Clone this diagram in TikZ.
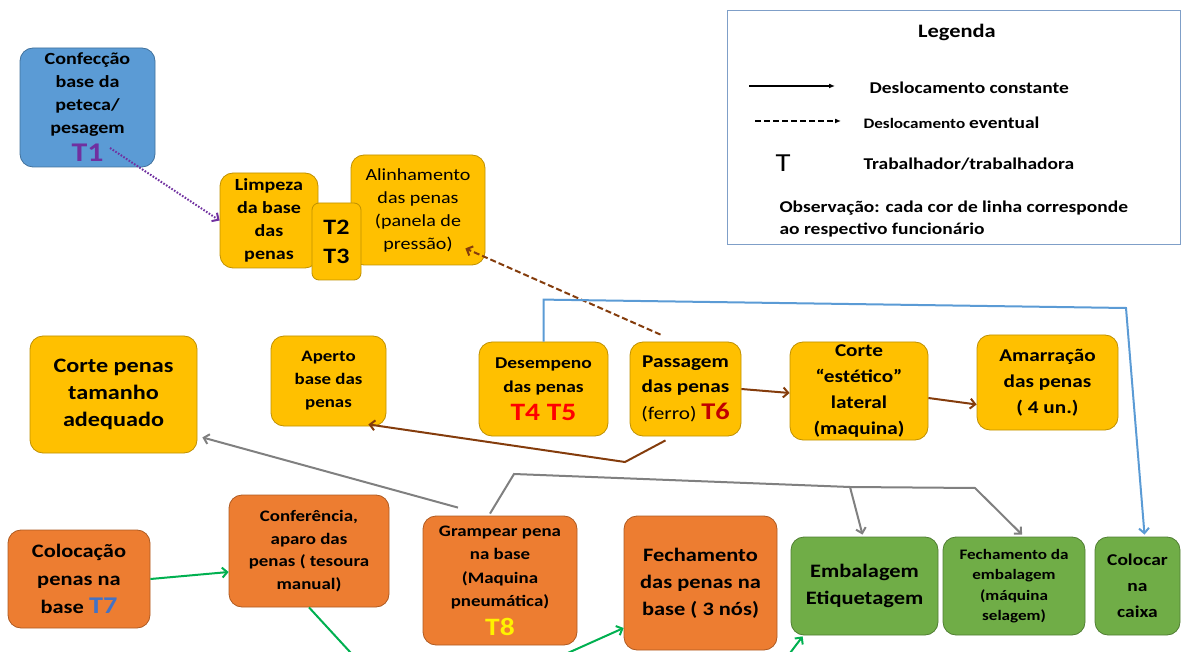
\documentclass[tikz,border=0pt]{standalone}
\usepackage{fontspec}
\setmainfont{Carlito}[FakeStretch=1.18]
\usetikzlibrary{arrows.meta,calc}
\definecolor{azulcx}{HTML}{5B9BD5}
\definecolor{azulbd}{HTML}{41719C}
\definecolor{amar}{HTML}{FFC000}
\definecolor{amarbd}{HTML}{BF9000}
\definecolor{lar}{HTML}{ED7D31}
\definecolor{larbd}{HTML}{AE5A21}
\definecolor{verd}{HTML}{70AD47}
\definecolor{verdbd}{HTML}{507E32}
\definecolor{roxo}{HTML}{7030A0}
\definecolor{marrom}{HTML}{843C0C}
\definecolor{vermesc}{HTML}{C00000}
\definecolor{azult}{HTML}{4472C4}
\definecolor{cinza}{HTML}{808080}
\definecolor{verdelin}{HTML}{00B050}
\definecolor{legbd}{HTML}{7F9FC8}
\newcommand{\fs}[2]{\fontsize{#1}{#2}\selectfont}
\begin{document}
\begin{tikzpicture}[x=1pt, y=-1pt,
    etapa/.style={draw, rounded corners=13pt, align=center, inner sep=1pt, line width=0.8pt},
    amarelo/.style={etapa, fill=amar, draw=amarbd},
    laranja/.style={etapa, fill=lar, draw=larbd},
    verde/.style={etapa, fill=verd, draw=verdbd},
    seta/.style={line width=2pt, -{Straight Barb[length=5pt,width=10pt]}}]
    \useasboundingbox (0,0) rectangle (1181,652);
    \clip (0,0) rectangle (1181,652);

    \node [etapa, fill=azulcx, draw=azulbd, minimum width=135, minimum height=119,
        font=\fs{17}{23}\bfseries] (conf) at (87.5,107.5)
        {Confecção\\base da\\peteca/\\pesagem\\[5pt]{\fs{27}{31}\color{roxo}T1}};
    \node [amarelo, minimum width=98, minimum height=95, font=\fs{17}{23}\bfseries]
        (limp) at (269,220.5) {Limpeza\\da base\\das\\penas};
    \node [amarelo, minimum width=134, minimum height=110, font=\fs{17}{23}]
        (alin) at (418,210) {Alinhamento\\das penas\\(panela de\\pressão)};
    \node [amarelo, rounded corners=7pt, minimum width=49, minimum height=77,
        font=\fs{22}{29}\bfseries] (tdois) at (336.5,241.5) {T2\\T3};

    \node [amarelo, minimum width=167, minimum height=117, font=\fs{20.5}{27}\bfseries]
        (corte) at (113.5,394.5) {Corte penas\\tamanho\\adequado};
    \node [amarelo, minimum width=115, minimum height=90, font=\fs{16}{23}\bfseries]
        (aperto) at (328.5,381) {Aperto\\base das\\penas};
    \node [amarelo, minimum width=129, minimum height=94, font=\fs{16.5}{24}\bfseries]
        (desemp) at (543.5,389) {Desempeno\\das penas\\[4pt]{\fs{25}{30}\color{red}T4 T5}};
    \node [amarelo, minimum width=111, minimum height=94, font=\fs{18}{25}\bfseries]
        (passag) at (685.5,389)
        {Passagem\\das penas\\[2pt]{\mdseries(ferro)} {\fs{24}{29}\color{vermesc}T6}};
    \node [amarelo, minimum width=138, minimum height=98, font=\fs{18}{26}\bfseries]
        (estet) at (859,391) {Corte\\“estético”\\lateral\\(maquina)};
    \node [amarelo, minimum width=141, minimum height=95, font=\fs{18}{26}\bfseries]
        (amarr) at (1047.5,382.5) {Amarração\\das penas\\( 4 un.)};

    \node [laranja, minimum width=142, minimum height=98, font=\fs{19}{28}\bfseries]
        (coloc) at (79,579) {Colocação\\penas na\\base {\fs{24}{28}\color{azult}T7}};
    \node [laranja, minimum width=160, minimum height=112, font=\fs{16}{22.5}\bfseries]
        (confer) at (309,551) {Conferência,\\aparo das\\penas ( tesoura\\manual)};
    \node [laranja, minimum width=154, minimum height=129, font=\fs{16}{23.5}\bfseries]
        (gramp) at (500,580.5)
        {Grampear pena\\na base\\(Maquina\\pneumática)\\[5pt]{\fs{25}{30}\color{yellow}T8}};
    \node [laranja, minimum width=153, minimum height=134, font=\fs{19}{27}\bfseries]
        (fech) at (700.5,583) {Fechamento\\das penas na\\base ( 3 nós)};
    \node [verde, minimum width=147, minimum height=98, font=\fs{19}{27}\bfseries]
        (embal) at (864.5,586) {Embalagem\\Etiquetagem};
    \node [verde, minimum width=142, minimum height=98, font=\fs{14.5}{20.5}\bfseries]
        (fembal) at (1014,586) {Fechamento da\\embalagem\\(máquina\\selagem)};
    \node [verde, minimum width=85, minimum height=98, font=\fs{16.5}{26}\bfseries]
        (caixa) at (1137.5,586) {Colocar\\na\\caixa};

    \coordinate (tum) at (110,148);
    \draw [seta, roxo, line width=2pt, dash pattern=on 1.6pt off 1.6pt] (tum) -- (limp.west);
    \draw [seta, marrom, dash pattern=on 6pt off 3pt] ($(passag.north)+(-25,-7)$)
        -- ($(alin.south east)+(-20,-17)$);
    \draw [seta, azulcx] (desemp.north) -- ++(0,-42) -- (1126,308) -- ($(caixa.north)+(7,-2)$);
    \draw [seta, marrom] (passag.east) -- ($(estet.west)+(0,2)$);
    \draw [seta, marrom] ($(estet.east)+(0,7)$) -- ($(amarr.west)+(0,22)$);
    \draw [seta, marrom] ($(passag.south)+(-20,4)$) -- (625,462) -- ($(aperto.south east)+(-18,-2)$);
    \draw [seta, cinza] ($(gramp.north)+(-42,-8)$) -- ($(corte.south east)+(5,-16)$);
    \draw [seta, cinza] ($(gramp.north)+(-10,-2)$) -- (514,474) -- (850,487)
        -- ($(embal.north)+(-2,-2)$);
    \draw [seta, cinza] (850,487) -- (975,488) -- ($(fembal.north)+(8,-2)$);
    \draw [seta, verdelin] (coloc.east) -- ($(confer.west)+(0,21)$);
    \coordinate (gfim) at (362,665);
    \coordinate (gini) at (541,665);
    \coordinate (gini2) at (781,665);
    \draw [line width=2pt, verdelin] (confer.south) -- (gfim);
    \draw [seta, verdelin] (gini) -- ($(fech.west)+(0,45)$);
    \draw [seta, verdelin] (gini2) -- ($(embal.south west)+(12,1)$);

    \draw [legbd, line width=1pt] (727,11) rectangle (1180,245);
    \node [font=\fs{19}{22}\bfseries] (leg) at (957,32) {Legenda};
    \node [anchor=west, font=\fs{16.5}{20}\bfseries] (lconst) at (866,88) {Deslocamento constante};
    \node [anchor=west, font=\fs{14.5}{18}\bfseries] (levent) at (860,123)
        {Deslocamento {\fs{16.5}{18}eventual}};
    \node [font=\fs{26}{28}] (lt) at (783,163) {T};
    \node [anchor=west, font=\fs{16.5}{20}\bfseries] (ltrab) at (860,164) {Trabalhador/trabalhadora};
    \node [anchor=west, align=left, font=\fs{16.5}{22}\bfseries] (lobs) at (776,219)
        {Observação: cada cor de linha corresponde\\ao respectivo funcionário};
    \coordinate (la) at (749,86);
    \coordinate (lb) at (835,86);
    \coordinate (lc) at (755,121);
    \coordinate (ld) at (841,121);
    \draw [line width=2pt, -{Latex[length=6pt,width=5pt]}] (la) -- (lb);
    \draw [line width=2pt, dash pattern=on 6pt off 3pt, -{Latex[length=6pt,width=5pt]}] (lc) -- (ld);
\end{tikzpicture}
\end{document}
